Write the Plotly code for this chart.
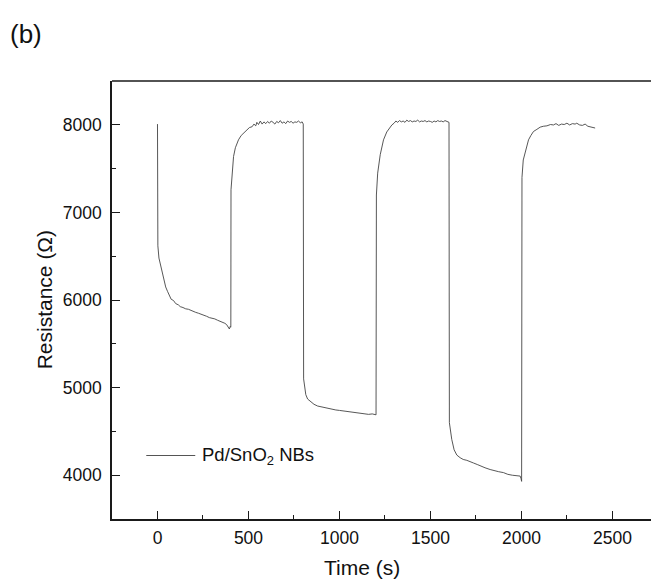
import plotly.graph_objects as go

# ---- data ----
t_cycle1 = [0, 2, 8, 15, 25, 33, 45, 55, 65, 75, 88, 100, 115, 125, 140, 155, 170, 180, 195, 210,
            225, 240, 255, 270, 285, 300, 315, 330, 345, 360, 370, 380, 388, 395, 400, 402]
r_cycle1 = [8010, 6620, 6480, 6420, 6300, 6230, 6150, 6100, 6050, 6010, 5995, 5960, 5945, 5925, 5915,
            5900, 5895, 5885, 5870, 5860, 5850, 5840, 5830, 5815, 5800, 5795, 5785, 5770, 5760, 5745,
            5735, 5720, 5690, 5670, 5700, 5690]

t_cycle2 = [403, 404, 410, 418, 428, 445, 460, 475, 491, 505, 520, 530, 540, 546, 555, 565, 575, 585,
            595, 605, 615, 625, 635, 645, 655, 665, 675, 685, 695, 705, 715, 725, 735, 745, 755, 765,
            775, 785, 795, 801]
r_cycle2 = [5700, 7260, 7450, 7640, 7740, 7830, 7880, 7910, 7945, 7970, 7980, 8010, 7990, 8030, 8005,
            8045, 8010, 8035, 8015, 8040, 8020, 8045, 8030, 8010, 8040, 8025, 8050, 8020, 8035, 8015,
            8045, 8030, 8040, 8020, 8035, 8030, 8045, 8025, 8035, 8010]

t_cycle3 = [803, 808, 815, 825, 840, 860, 880, 900, 920, 940, 960, 980, 1000, 1020, 1040, 1060, 1080,
            1100, 1120, 1140, 1160, 1180, 1195, 1200]
r_cycle3 = [5100, 4990, 4920, 4870, 4840, 4810, 4790, 4780, 4775, 4760, 4755, 4745, 4740, 4735, 4725,
            4720, 4715, 4710, 4705, 4700, 4695, 4700, 4690, 4695]

t_cycle4 = [1201, 1203, 1210, 1224, 1242, 1260, 1275, 1288, 1300, 1310, 1320, 1330, 1340, 1350, 1360,
            1370, 1380, 1390, 1400, 1410, 1420, 1430, 1440, 1450, 1460, 1470, 1480, 1490, 1500, 1510,
            1520, 1530, 1540, 1550, 1560, 1570, 1580, 1590, 1602]
r_cycle4 = [4690, 7200, 7450, 7660, 7830, 7920, 7970, 8000, 8020, 8045, 8030, 8050, 8035, 8045, 8030,
            8055, 8040, 8050, 8035, 8045, 8040, 8055, 8035, 8045, 8040, 8050, 8035, 8045, 8040, 8030,
            8045, 8035, 8050, 8040, 8045, 8035, 8050, 8040, 8030]

t_cycle5 = [1604, 1617, 1630, 1645, 1663, 1680, 1700, 1720, 1736, 1760, 1780, 1800, 1828, 1850, 1875,
            1901, 1925, 1950, 1975, 1993, 1998, 2000]
r_cycle5 = [4600, 4410, 4290, 4230, 4200, 4180, 4170, 4150, 4140, 4120, 4100, 4085, 4065, 4050, 4040,
            4030, 4010, 4000, 3995, 3990, 3960, 3930]

t_cycle6 = [2001, 2003, 2010, 2020, 2039, 2052, 2066, 2085, 2103, 2120, 2140, 2160, 2176, 2190, 2205,
            2220, 2235, 2250, 2265, 2280, 2295, 2304, 2320, 2335, 2350, 2365, 2380, 2395, 2405]
r_cycle6 = [3930, 7400, 7600, 7680, 7830, 7880, 7925, 7950, 7975, 7985, 7990, 8005, 8000, 8015, 7995,
            8010, 8005, 8020, 8000, 8015, 8010, 8020, 8000, 7995, 8010, 7985, 7980, 7975, 7965]

x_ticks = [0, 500, 1000, 1500, 2000, 2500]
y_ticks = [4000, 5000, 6000, 7000, 8000]
series_name = "Pd/SnO<sub>2</sub> NBs"

time_s = t_cycle1 + t_cycle2 + t_cycle3 + t_cycle4 + t_cycle5 + t_cycle6
resistance = r_cycle1 + r_cycle2 + r_cycle3 + r_cycle4 + r_cycle5 + r_cycle6

# ---- figure ----
FONT = "Liberation Sans, Arial, sans-serif"
W, H = 651, 588
L, R, T, B = 111.7, 0, 81, 69
pw, ph = W - L - R, H - T - B

def px_x(px):
    return (px - L) / pw

def px_y(py):
    return (H - B - py) / ph

fig = go.Figure()
fig.add_trace(go.Scatter(x=time_s, y=resistance, mode="lines",
                         line=dict(color="#444444", width=0.9), showlegend=False))

axis_common = dict(showline=True, linecolor="#1a1a1a", linewidth=1.6, ticks="inside",
                   tickcolor="#1a1a1a", tickwidth=1.4, ticklen=8, showgrid=False, zeroline=False,
                   tickfont=dict(family=FONT, size=17.5, color="#111"))

fig.update_xaxes(range=[-250, 2712], tickvals=x_ticks, ticktext=[str(v) for v in x_ticks],
                 minor=dict(dtick=250, tick0=0, ticks="inside", ticklen=4, tickwidth=1.4,
                            tickcolor="#1a1a1a"),
                 ticklabelstandoff=2, **axis_common)
fig.update_yaxes(range=[3500, 8502], tickvals=y_ticks, ticktext=[str(v) for v in y_ticks],
                 minor=dict(dtick=500, tick0=0, ticks="inside", ticklen=4, tickwidth=1.4,
                            tickcolor="#1a1a1a"),
                 ticklabelstandoff=5, **axis_common)

shapes = [
    # top frame line
    dict(type="line", xref="paper", yref="paper", x0=0, x1=1.02, y0=1, y1=1,
         line=dict(color="#1a1a1a", width=1.6)),
    # legend sample line
    dict(type="line", xref="paper", yref="paper", x0=px_x(146), x1=px_x(195),
         y0=px_y(455.5), y1=px_y(455.5), line=dict(color="#555", width=1)),
]

annotations = [
    dict(text=series_name, xref="paper", yref="paper", x=px_x(200), y=px_y(455.5),
         xanchor="left", yanchor="middle", showarrow=False,
         font=dict(family=FONT, size=18.5, color="#111")),
    dict(text="(b)", xref="paper", yref="paper", x=px_x(8), y=px_y(34),
         xanchor="left", yanchor="middle", showarrow=False,
         font=dict(family=FONT, size=26, color="#111")),
    dict(text="Time (s)", xref="paper", yref="paper", x=px_x(362), y=px_y(567),
         xanchor="center", yanchor="middle", showarrow=False,
         font=dict(family=FONT, size=21, color="#111")),
    dict(text="Resistance (Ω)", xref="paper", yref="paper", x=px_x(44), y=px_y(300),
         xanchor="center", yanchor="middle", showarrow=False, textangle=-90,
         font=dict(family=FONT, size=21, color="#111")),
]

fig.update_layout(width=W, height=H, margin=dict(l=L, r=R, t=T, b=B),
                  paper_bgcolor="white", plot_bgcolor="white",
                  shapes=shapes, annotations=annotations)

fig.write_html("out.html")
